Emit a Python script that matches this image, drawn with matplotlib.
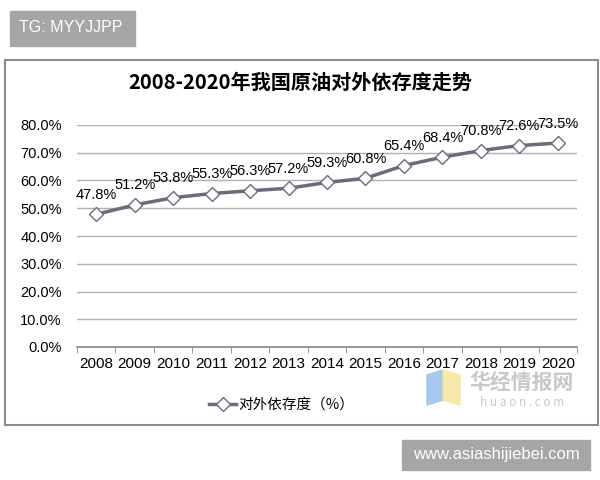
import matplotlib.pyplot as plt
from matplotlib.patches import Rectangle, Polygon

plt.rcParams['font.family'] = ['Noto Sans CJK SC', 'DejaVu Sans']

years = ['2008', '2009', '2010', '2011', '2012', '2013', '2014',
         '2015', '2016', '2017', '2018', '2019', '2020']
dependence = [47.8, 51.2, 53.8, 55.3, 56.3, 57.2, 59.3,
              60.8, 65.4, 68.4, 70.8, 72.6, 73.5]
yticks = [0, 10, 20, 30, 40, 50, 60, 70, 80]
series_name = '对外依存度（%）'
title = '2008-2020年我国原油对外依存度走势'

fig = plt.figure(figsize=(6, 4.8), dpi=100)
W, H = 600, 480

# outer chart frame
fig.patches.append(Rectangle((5 / W, 1 - 425 / H), 593 / W, 365 / H,
                             transform=fig.transFigure, fill=False,
                             edgecolor='#8c8c8c', linewidth=1.5))

# gray tag boxes
fig.patches.append(Rectangle((10 / W, 1 - 46 / H), 125 / W, 35 / H,
                             transform=fig.transFigure, color='#a6a6a6'))
fig.text(71 / W, 1 - 28 / H, 'TG: MYYJJPP', color='white', fontsize=11.5,
         ha='center', va='center', family='Liberation Sans')
fig.patches.append(Rectangle((402 / W, 1 - 470 / H), 188 / W, 30 / H,
                             transform=fig.transFigure, color='#a6a6a6'))
fig.text(496 / W, 1 - 455 / H, 'www.asiashijiebei.com', color='white',
         fontsize=12, ha='center', va='center', family='Liberation Sans')

ax = fig.add_axes([77 / W, 1 - 347 / H, 500 / W, 222 / H])
x = list(range(len(years)))
ax.plot(x, dependence, color='#6b6b7d', linewidth=2.5, marker='D',
        markersize=7, markerfacecolor='white', markeredgecolor='#6b6b7d',
        markeredgewidth=1, label=series_name, zorder=3)
for xi, v in zip(x, dependence):
    ax.annotate('%.1f%%' % v, (xi, v), xytext=(0, 9), textcoords='offset points',
                ha='center', va='bottom', fontsize=10.5, family='Liberation Sans')

ax.set_xlim(-0.5, len(years) - 0.5)
ax.set_ylim(0, 80)
ax.set_yticks(yticks)
ax.set_yticklabels(['%.1f%%' % t for t in yticks], fontsize=10.5,
                   family='Liberation Sans')
ax.set_xticks(x)
ax.set_xticklabels(years, fontsize=11, family='Liberation Sans')
ax.set_xticks([i - 0.5 for i in range(len(years) + 1)], minor=True)
ax.tick_params(axis='x', which='major', length=0, pad=7)
ax.tick_params(axis='x', which='minor', length=4, color='#888888')
ax.tick_params(axis='y', length=0, pad=11)
ax.grid(axis='y', color='#b0b0b0', linewidth=1)
ax.set_axisbelow(True)
for s in ['top', 'right', 'left']:
    ax.spines[s].set_visible(False)
ax.spines['bottom'].set_color('#888888')
ax.spines['bottom'].set_linewidth(1.2)

fig.text(300 / W, 1 - 82 / H, title, ha='center', va='center',
         fontsize=14.5, fontweight='bold')

# watermark
fig.patches.append(Polygon([(427 / W, 1 - 375 / H), (443 / W, 1 - 370 / H),
                            (443 / W, 1 - 400 / H), (427 / W, 1 - 405 / H)],
                           closed=True, transform=fig.transFigure,
                           color='#9fc2ee', alpha=0.9))
fig.patches.append(Polygon([(443 / W, 1 - 370 / H), (460 / W, 1 - 375 / H),
                            (460 / W, 1 - 405 / H), (443 / W, 1 - 400 / H)],
                           closed=True, transform=fig.transFigure,
                           color='#f6e7a2', alpha=0.9))
fig.text(522 / W, 1 - 382 / H, '华经情报网', ha='center', va='center',
         fontsize=15, color='#c8c8c8', fontweight='bold')
fig.text(522 / W, 1 - 402 / H, 'h u a o n . c o m', ha='center', va='center',
         fontsize=8.5, color='#c8c8c8')

ax.legend(loc='center', bbox_to_anchor=(282 / W, 1 - 405 / H),
          bbox_transform=fig.transFigure, frameon=False, fontsize=10.5,
          handlelength=1.8, handletextpad=0.2)

fig.savefig('out.png', dpi=100)
